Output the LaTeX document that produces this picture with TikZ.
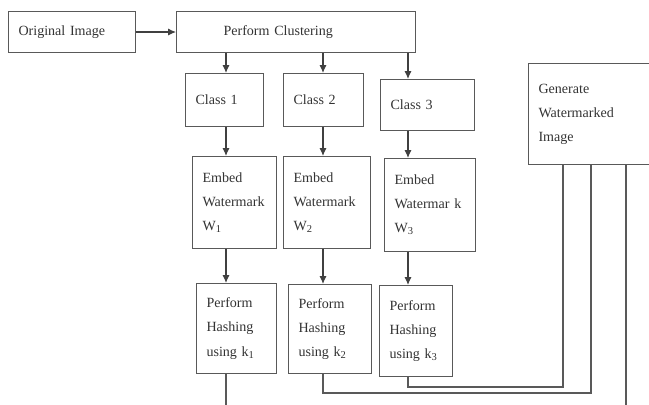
\documentclass[tikz,border=0pt]{standalone}
\usepackage{fontspec}
\setmainfont{Liberation Serif}
\usetikzlibrary{arrows.meta}
\begin{document}
\begin{tikzpicture}[x=0.02cm,y=-0.02cm]
    \tikzstyle{box}=[draw=black!65, line width=0.6pt, anchor=north west, align=left, inner xsep=0.2cm, inner ysep=0pt, text=black!80, font=\fontsize{8}{13.7}\selectfont]
    \tikzstyle{arr}=[draw=black!75, line width=0.6pt, -{Latex[length=4.5pt,width=4pt]}]
    \tikzstyle{wire}=[draw=black!65, line width=0.6pt]
    \useasboundingbox (0,0) rectangle (649,405);
    \clip (0,0) rectangle (649,405);
    \node[box, text width=2.14cm, minimum height=0.82cm] (orig) at (8,11) {Original Image};
    \node[box, inner xsep=0.94cm, text width=2.9cm, minimum height=0.82cm] (clust) at (176,11) {Perform Clustering};
    \node[box, text width=1.16cm, minimum height=1.06cm] (class1) at (185,73) {Class 1};
    \node[box, text width=1.2cm, minimum height=1.06cm] (class2) at (283,73) {Class 2};
    \node[box, text width=1.48cm, minimum height=1.02cm] (class3) at (380,79) {Class 3};
    \node[box, text width=1.28cm, minimum height=1.84cm] (embed1) at (192,156) {Embed\\Watermark\\W\textsubscript{1}};
    \node[box, text width=1.34cm, minimum height=1.84cm] (embed2) at (283,156) {Embed\\Watermark\\W\textsubscript{2}};
    \node[box, text width=1.42cm, minimum height=1.86cm] (embed3) at (384,158) {Embed\\Watermar~k\\W\textsubscript{3}};
    \node[box, text width=1.2cm, minimum height=1.8cm] (hash1) at (196,283) {Perform\\Hashing\\using k\textsubscript{1}};
    \node[box, text width=1.26cm, minimum height=1.78cm] (hash2) at (288,284) {Perform\\Hashing\\using k\textsubscript{2}};
    \node[box, text width=1.06cm, minimum height=1.82cm] (hash3) at (379,285) {Perform\\Hashing\\using k\textsubscript{3}};
    \node[box, text width=2.2cm, minimum height=2.02cm] (gen) at (528,63) {Generate\\Watermarked\\Image};
    % columns of the arrows
    \coordinate (c1) at (226,0);
    \coordinate (c2) at (323,0);
    \coordinate (c3) at (408,0);
    \draw[arr] (orig) -- (clust);
    \foreach \i in {1,2,3} {
      \draw[arr] (clust.south -| c\i) -- (class\i.north -| c\i);
      \draw[arr] (class\i.south -| c\i) -- (embed\i.north -| c\i);
      \draw[arr] (embed\i.south -| c\i) -- (hash\i.north -| c\i);
    }
    \coordinate (out1) at (226,405);
    \coordinate (j2) at (591,393);
    \coordinate (j3) at (563,387);
    \coordinate (out3) at (626,405);
    \draw[wire] (hash1.south -| c1) -- (out1);
    \draw[wire] (hash2.south -| c2) |- (j2) -- (gen.south -| j2);
    \draw[wire] (hash3.south -| c3) |- (j3) -- (gen.south -| j3);
    \draw[wire] (gen.south -| out3) -- (out3);
\end{tikzpicture}
\end{document}
